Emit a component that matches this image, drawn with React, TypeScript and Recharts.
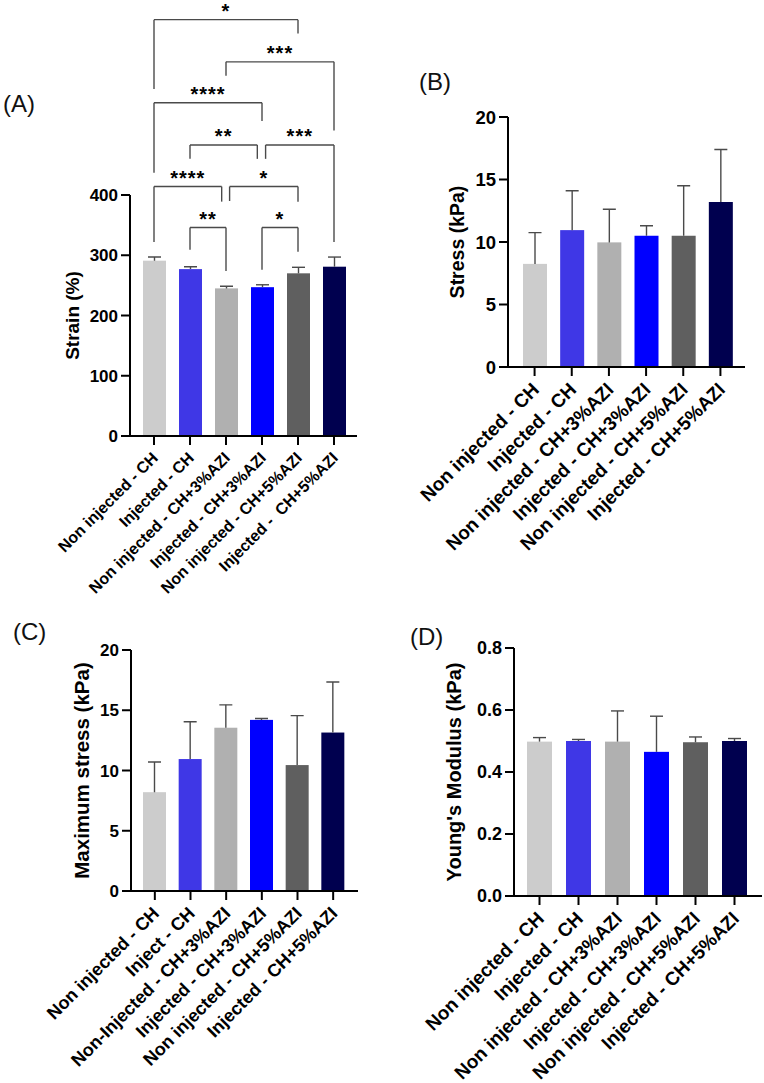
import React from 'react';
import { BarChart, Bar, XAxis, YAxis, Cell, ReferenceLine } from 'recharts';

const FONT = 'Arial, "Liberation Sans", Helvetica, sans-serif';

// group names as printed under each panel
const groupsA = ['Non injected - CH', 'Injected - CH', 'Non injected - CH+3%AZI', 'Injected - CH+3%AZI', 'Non injected - CH+5%AZI', 'Injected -  CH+5%AZI'];
const groupsB = ['Non injected - CH', 'Injected - CH', 'Non injected - CH+3%AZI', 'Injected - CH+3%AZI', 'Non injected - CH+5%AZI', 'Injected - CH+5%AZI'];
const groupsC = ['Non injected - CH', 'Inject - CH', 'Non-Injected - CH+3%AZI', 'Injected - CH+3%AZI', 'Non injected - CH+5%AZI', 'Injected - CH+5%AZI'];
const groupsD = ['Non injected - CH', 'Injected - CH', 'Non injected - CH+3%AZI', 'Injected - CH+3%AZI', 'Non injected - CH+5%AZI', 'Injected - CH+5%AZI'];

const barColors = ['#CCCCCC', '#3F37E6', '#B0B0B0', '#0000FF', '#5F5F5F', '#00004F'];

// (A) strain
const strainMean = [291, 277, 245, 247, 270, 281];
const strainSd = [6, 4, 3.5, 4, 10, 16];
const strainTicks = [0, 100, 200, 300, 400];

// (B) stress
const stressMean = [8.25, 10.95, 9.97, 10.5, 10.5, 13.2];
const stressSd = [2.5, 3.15, 2.65, 0.8, 4.0, 4.2];
const stressTicks = [0, 5, 10, 15, 20];

// (C) maximum stress
const maxStressMean = [8.2, 10.95, 13.55, 14.2, 10.45, 13.15];
const maxStressSd = [2.5, 3.1, 1.9, 0.12, 4.1, 4.2];

// (D) young's modulus
const modulusMean = [0.498, 0.5, 0.498, 0.465, 0.496, 0.5];
const modulusSd = [0.013, 0.005, 0.099, 0.115, 0.017, 0.008];
const modulusTicks = [0, 0.2, 0.4, 0.6, 0.8];

// significance brackets on (A): group index span, bracket height and leg ends (in % strain)
const bracketFrom = [0, 2, 0, 1, 3.1, 0, 2.1, 1, 3];
const bracketTo = [4, 5, 3, 2.87, 5, 1.88, 4, 2, 4];
const bracketLevel = [691, 621, 553, 483, 483, 414, 414, 346, 346];
const bracketLeftEnd = [576, 598, 437, 460, 460, 322, 390, 309, 276];
const bracketRightEnd = [668, 507, 523, 460, 322, 389, 389, 274, 306];
const bracketStars = ['*', '***', '****', '**', '***', '****', '*', '**', '*'];

const makeRows = (names: string[], means: number[], sds: number[]) =>
  names.map((name, i) => ({ name, idx: i, mean: means[i], sd: sds[i] }));

// bar + upward SD whisker, whisker length taken from the bar's own px/unit
const BarWithSd = (props: any) => {
  const { x, y, width, height, payload, index } = props;
  const perUnit = payload.mean ? height / payload.mean : 0;
  const top = y - payload.sd * perUnit;
  const cx = x + width / 2;
  return (
    <g>
      <rect x={x} y={y} width={width} height={height} fill={barColors[index]} />
      <line x1={cx} y1={y} x2={cx} y2={top} stroke="#4a4a4a" strokeWidth={1.4} />
      <line x1={cx - 6.5} y1={top} x2={cx + 6.5} y2={top} stroke="#4a4a4a" strokeWidth={1.4} />
    </g>
  );
};

const SlantTick = (props: any) => {
  const { x, y, payload, size } = props;
  return (
    <g transform={`translate(${x + 1},${y + 8})`}>
      <text
        x={0}
        y={0}
        dy="0.35em"
        textAnchor="end"
        transform="rotate(-45)"
        fontSize={size}
        fontWeight={700}
        fontFamily={FONT}
        fill="#000"
        style={{ whiteSpace: 'pre' }}
      >
        {payload.value}
      </text>
    </g>
  );
};

interface PanelProps {
  left: number;
  top: number;
  width: number;
  height: number;
  rows: { name: string; idx: number; mean: number; sd: number }[];
  yMax: number;
  yTicks: number[];
  yFmt?: (v: number) => string;
  yTitle: string;
  titleDx: number;
  marginTop: number;
  marginRight: number;
  yWidth: number;
  xHeight: number;
  pad: { left: number; right: number };
  barSize: number;
  xFont: number;
  tickFont: number;
  titleFont: number;
  withBrackets?: boolean;
}

const Panel = (p: PanelProps) => {
  const axisStroke = { stroke: '#000', strokeWidth: 2 };
  return (
    <div style={{ position: 'absolute', left: p.left, top: p.top }}>
      <BarChart
        width={p.width}
        height={p.height}
        data={p.rows}
        margin={{ top: p.marginTop, right: p.marginRight, bottom: 0, left: 0 }}
      >
        <XAxis
          dataKey="name"
          interval={0}
          height={p.xHeight}
          padding={p.pad}
          axisLine={axisStroke}
          tickLine={axisStroke}
          tickSize={9}
          tickMargin={2}
          tick={(t: any) => <SlantTick {...t} size={p.xFont} />}
        />
        <XAxis
          xAxisId="n"
          type="number"
          dataKey="idx"
          domain={[-0.5, 5.5]}
          allowDataOverflow
          padding={p.pad}
          hide
        />
        <YAxis
          width={p.yWidth}
          domain={[0, p.yMax]}
          ticks={p.yTicks}
          allowDataOverflow
          axisLine={axisStroke}
          tickLine={axisStroke}
          tickSize={9}
          tickMargin={3}
          tickFormatter={p.yFmt}
          tick={{ fill: '#000', fontSize: p.tickFont, fontWeight: 700, fontFamily: FONT }}
          label={{
            value: p.yTitle,
            angle: -90,
            position: 'center',
            dx: p.titleDx,
            style: { fill: '#000', fontSize: p.titleFont, fontWeight: 700, fontFamily: FONT },
          }}
        />
        <Bar dataKey="mean" barSize={p.barSize} shape={BarWithSd} isAnimationActive={false}>
          {p.rows.map((r, i) => (
            <Cell key={r.name} fill={barColors[i]} />
          ))}
        </Bar>
        {p.withBrackets &&
          bracketFrom.map((from, i) => {
            const to = bracketTo[i];
            const lvl = bracketLevel[i];
            const line = { xAxisId: 'n', stroke: '#4a4a4a', strokeWidth: 1.4, ifOverflow: 'visible' as const };
            return (
              <React.Fragment key={`br${i}`}>
                <ReferenceLine
                  {...line}
                  segment={[{ x: from, y: lvl }, { x: to, y: lvl }]}
                  label={{
                    value: bracketStars[i],
                    position: 'top',
                    offset: 2,
                    style: { fill: '#000', fontSize: 20, fontWeight: 700, fontFamily: FONT, letterSpacing: 1 },
                  }}
                />
                <ReferenceLine {...line} segment={[{ x: from, y: lvl }, { x: from, y: bracketLeftEnd[i] }]} />
                <ReferenceLine {...line} segment={[{ x: to, y: lvl }, { x: to, y: bracketRightEnd[i] }]} />
              </React.Fragment>
            );
          })}
      </BarChart>
    </div>
  );
};

const letterStyle: React.CSSProperties = {
  position: 'absolute',
  fontFamily: FONT,
  fontSize: 24,
  lineHeight: '28px',
  color: '#111',
};

export default function App() {
  return (
    <div style={{ position: 'absolute', left: 0, top: 0, width: 764, height: 1083, background: '#fff' }}>
      <Panel
        left={0}
        top={0}
        width={382}
        height={620}
        rows={makeRows(groupsA, strainMean, strainSd)}
        yMax={400}
        yTicks={strainTicks}
        yTitle="Strain (%)"
        titleDx={7}
        marginTop={195}
        marginRight={25}
        yWidth={130}
        xHeight={184}
        pad={{ left: 6, right: 5 }}
        barSize={23}
        xFont={16}
        tickFont={17}
        titleFont={19}
        withBrackets
      />
      <Panel
        left={382}
        top={0}
        width={382}
        height={620}
        rows={makeRows(groupsB, stressMean, stressSd)}
        yMax={20}
        yTicks={stressTicks}
        yTitle="Stress (kPa)"
        titleDx={12}
        marginTop={117}
        marginRight={19}
        yWidth={126}
        xHeight={253}
        pad={{ left: 8, right: 6 }}
        barSize={24}
        xFont={19}
        tickFont={18.5}
        titleFont={19.5}
      />
      <Panel
        left={0}
        top={540}
        width={382}
        height={543}
        rows={makeRows(groupsC, maxStressMean, maxStressSd)}
        yMax={20}
        yTicks={stressTicks}
        yTitle="Maximum stress (kPa)"
        titleDx={16}
        marginTop={110}
        marginRight={24}
        yWidth={131}
        xHeight={192}
        pad={{ left: 6, right: 7 }}
        barSize={23}
        xFont={18}
        tickFont={17}
        titleFont={20.5}
      />
      <Panel
        left={382}
        top={540}
        width={382}
        height={543}
        rows={makeRows(groupsD, modulusMean, modulusSd)}
        yMax={0.8}
        yTicks={modulusTicks}
        yFmt={(v: number) => v.toFixed(1)}
        yTitle="Young's Modulus (kPa)"
        titleDx={6}
        marginTop={108}
        marginRight={2}
        yWidth={132}
        xHeight={187}
        pad={{ left: 6, right: 8 }}
        barSize={25}
        xFont={19}
        tickFont={18}
        titleFont={20}
      />
      <div style={{ ...letterStyle, left: 3, top: 90 }}>(A)</div>
      <div style={{ ...letterStyle, left: 419, top: 68 }}>(B)</div>
      <div style={{ ...letterStyle, left: 13, top: 618 }}>(C)</div>
      <div style={{ ...letterStyle, left: 410, top: 623 }}>(D)</div>
    </div>
  );
}
